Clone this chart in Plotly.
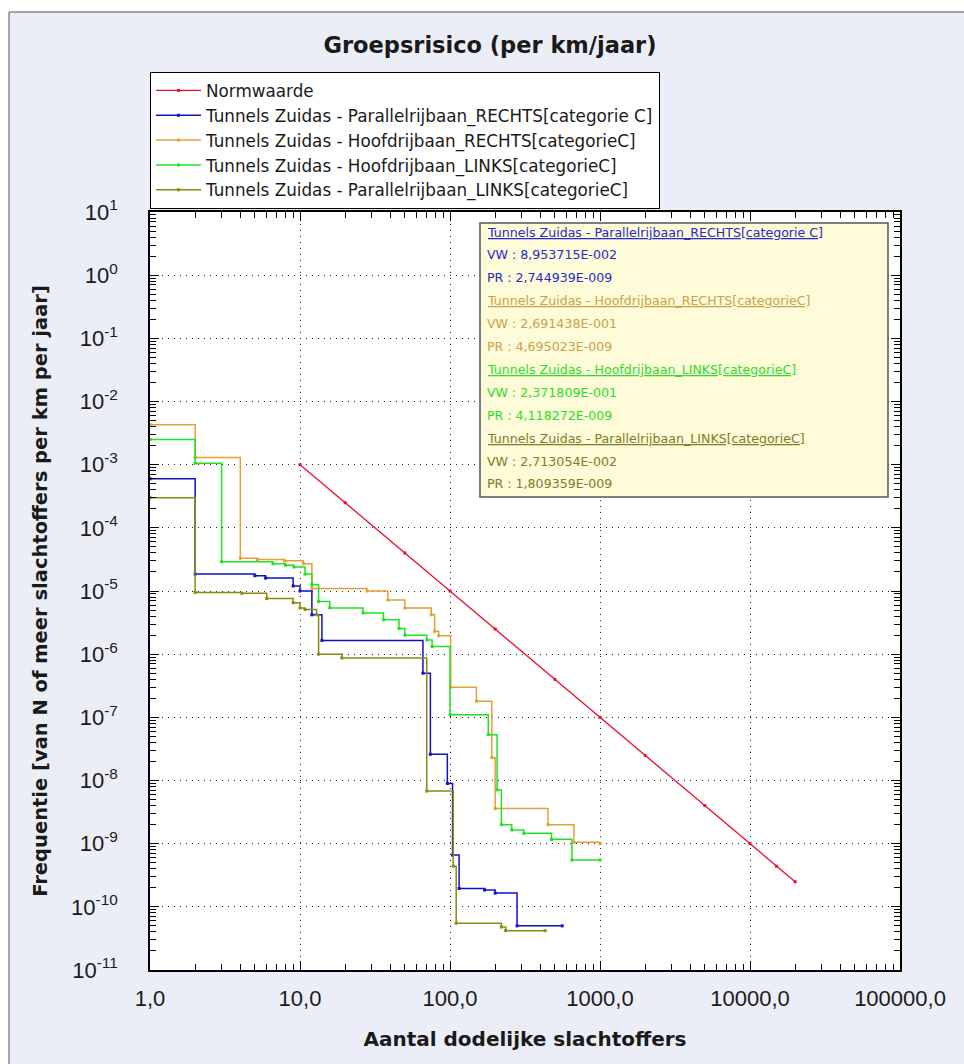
import plotly.graph_objects as go

# ---------------- data ----------------
norm_n = [10, 20, 50, 100, 200, 500, 1000, 2000, 5000, 10000, 15000, 20000]
norm_f = [1e-3, 2.5e-4, 4e-5, 1e-5, 2.5e-6, 4e-7, 1e-7, 2.5e-8, 4e-9, 1e-9, 4.4e-10, 2.5e-10]

pr_rechts_n = [1, 2, 5, 5.9, 9, 10, 12, 14, 66, 74, 96, 104, 115, 170, 200, 280, 560]
pr_rechts_f = [6.0e-4, 1.85e-5, 1.75e-5, 1.6e-5, 1.2e-5, 1.0e-5, 4.2e-6, 1.65e-6, 5.0e-7,
               2.6e-8, 9.0e-9, 6.6e-10, 1.95e-10, 1.85e-10, 1.65e-10, 5.0e-11, 5.0e-11]

hf_rechts_n = [1, 2, 4, 5.2, 7.9, 10.5, 12, 28, 38.5, 50, 75, 79, 84, 101, 150, 190, 200, 450, 670, 1000]
hf_rechts_f = [4.3e-3, 1.3e-3, 3.3e-5, 3.15e-5, 3.0e-5, 2.7e-5, 1.1e-5, 1.0e-5, 7.2e-6, 5.4e-6,
               4.2e-6, 2.3e-6, 1.95e-6, 3.0e-7, 1.8e-7, 2.3e-8, 3.6e-9, 2.0e-9, 1.05e-9, 1.0e-9]

hf_links_n = [1, 2, 3, 6.6, 8, 9.1, 10.8, 12, 13.3, 15.8, 26.3, 36, 45.7, 50, 70, 76, 100,
              180, 206, 220, 258, 310, 475, 650, 1000]
hf_links_f = [2.5e-3, 1.05e-3, 2.9e-5, 2.7e-5, 2.55e-5, 2.4e-5, 1.85e-5, 1.26e-5, 6.8e-6, 5.4e-6,
              4.5e-6, 3.5e-6, 2.55e-6, 2.0e-6, 1.68e-6, 1.32e-6, 1.1e-7, 5.3e-8, 7.1e-9, 2.0e-9,
              1.65e-9, 1.46e-9, 1.17e-9, 5.5e-10, 5.5e-10]

pr_links_n = [1, 2, 4.1, 6, 9, 10, 10.8, 12.9, 13.3, 19, 70, 105, 110, 220, 235, 430]
pr_links_f = [3.0e-4, 9.5e-6, 9.2e-6, 7.6e-6, 6.5e-6, 5.4e-6, 5.1e-6, 4.2e-6, 1.0e-6, 8.7e-7,
              6.8e-9, 4.4e-10, 5.5e-11, 4.8e-11, 4.2e-11, 4.2e-11]

names = ["Normwaarde",
         "Tunnels Zuidas - Parallelrijbaan_RECHTS[categorie C]",
         "Tunnels Zuidas - Hoofdrijbaan_RECHTS[categorieC]",
         "Tunnels Zuidas - Hoofdrijbaan_LINKS[categorieC]",
         "Tunnels Zuidas - Parallelrijbaan_LINKS[categorieC]"]

x_tickvals = [1, 10, 100, 1000, 10000, 100000]
x_ticktext = ["1,0", "10,0", "100,0", "1000,0", "10000,0", "100000,0"]
y_exps = list(range(1, -12, -1))

info_lines = [
    ("<u>Tunnels Zuidas - Parallelrijbaan_RECHTS[categorie C]</u>", "#2a2ac8"),
    ("VW : 8,953715E-002", "#2a2ac8"),
    ("PR : 2,744939E-009", "#2a2ac8"),
    ("<u>Tunnels Zuidas - Hoofdrijbaan_RECHTS[categorieC]</u>", "#c9a24e"),
    ("VW : 2,691438E-001", "#c9a24e"),
    ("PR : 4,695023E-009", "#c9a24e"),
    ("<u>Tunnels Zuidas - Hoofdrijbaan_LINKS[categorieC]</u>", "#2edc2e"),
    ("VW : 2,371809E-001", "#2edc2e"),
    ("PR : 4,118272E-009", "#2edc2e"),
    ("<u>Tunnels Zuidas - Parallelrijbaan_LINKS[categorieC]</u>", "#7d7d2a"),
    ("VW : 2,713054E-002", "#7d7d2a"),
    ("PR : 1,809359E-009", "#7d7d2a"),
]

# ---------------- figure ----------------
ARIAL = "Liberation Sans, Arial, sans-serif"
WIDE = "DejaVu Sans, Verdana, sans-serif"
INK = "#1a1a1a"
fig = go.Figure()

fig.add_trace(go.Scatter(x=norm_n, y=norm_f, name=names[0], mode="lines+markers",
                         line=dict(color="#e8102a", width=1.3),
                         marker=dict(size=3, color="#e8102a", symbol="square")))

series = [
    (pr_rechts_n, pr_rechts_f, names[1], "#1010c8"),
    (hf_rechts_n, hf_rechts_f, names[2], "#e5a035"),
    (hf_links_n, hf_links_f, names[3], "#22e022"),
    (pr_links_n, pr_links_f, names[4], "#8a8a12"),
]
for xs, ys, nm, col in series:
    fig.add_trace(go.Scatter(x=xs, y=ys, name=nm, mode="lines+markers",
                             line=dict(color=col, width=1.5, shape="hv"),
                             marker=dict(size=3, color=col, symbol="square")))

# plot area in pixels: x 150..900, y 212..970
def px(xp):
    return (xp - 150) / 750.0

def py(yp):
    return (970 - yp) / 758.0

# info box
fig.add_shape(type="rect", xref="paper", yref="paper",
              x0=px(480), x1=px(888), y0=py(497), y1=py(223),
              fillcolor="#fdfbd8", line=dict(color="#555555", width=1.5), layer="above")

ys_info = [232, 254, 277, 300, 323, 346, 369, 392, 415, 438, 461, 484]
for (txt, col), yy in zip(info_lines, ys_info):
    fig.add_annotation(text=txt, xref="paper", yref="paper", x=px(485), y=py(yy),
                       xanchor="left", yanchor="middle", showarrow=False,
                       font=dict(family=WIDE, size=12.6, color=col))

# outer frame (white strips and border)
fig.add_shape(type="rect", xref="paper", yref="paper",
              x0=px(0), x1=px(964), y0=py(12), y1=py(0),
              fillcolor="white", line=dict(width=0), layer="below")
fig.add_shape(type="rect", xref="paper", yref="paper",
              x0=px(0), x1=px(9), y0=py(1064), y1=py(0),
              fillcolor="white", line=dict(width=0), layer="below")
fig.add_shape(type="line", xref="paper", yref="paper",
              x0=px(9), x1=px(964), y0=py(12), y1=py(12),
              line=dict(color="#8a8a8a", width=1.5))
fig.add_shape(type="line", xref="paper", yref="paper",
              x0=px(9), x1=px(9), y0=py(12), y1=py(1064),
              line=dict(color="#8a8a8a", width=1.5))

x_minor = [m * 10 ** e for e in range(0, 5) for m in range(2, 10)]
y_minor = [m * 10.0 ** e for e in range(-11, 1) for m in range(2, 10)]

axis_common = dict(showline=True, linecolor="black", linewidth=1.5, mirror="ticks",
                   ticks="inside", ticklen=9, tickcolor="black", tickwidth=1,
                   showgrid=True, gridcolor="#222222", griddash="1px,5px", gridwidth=1,
                   zeroline=False, automargin=False)

fig.update_xaxes(type="log", range=[0, 5], tickmode="array", tickvals=x_tickvals,
                 ticktext=x_ticktext, tickfont=dict(family=ARIAL, size=22, color=INK),
                 ticklabelstandoff=8,
                 minor=dict(tickmode="array", tickvals=x_minor, ticks="inside", ticklen=6,
                            tickcolor="black", showgrid=False),
                 title=dict(text="<b>Aantal dodelijke slachtoffers</b>", standoff=22,
                            font=dict(family=WIDE, size=20, color=INK)),
                 **axis_common)

fig.update_yaxes(type="log", range=[-11, 1], tickmode="array",
                 tickvals=[10.0 ** e for e in y_exps],
                 ticktext=["10<sup>%d</sup>" % e for e in y_exps],
                 tickfont=dict(family=ARIAL, size=22, color=INK),
                 ticklabelstandoff=26,
                 minor=dict(tickmode="array", tickvals=y_minor, ticks="inside", ticklen=6,
                            tickcolor="black", showgrid=False),
                 title=dict(text="<b>Frequentie [van N of meer slachtoffers per km per jaar]</b>",
                            standoff=18, font=dict(family=WIDE, size=19.5, color=INK)),
                 **axis_common)

fig.update_layout(
    width=964, height=1064,
    margin=dict(l=150, r=64, t=212, b=94),
    paper_bgcolor="#eceef7", plot_bgcolor="white",
    title=dict(text="<b>Groepsrisico (per km/jaar)</b>", x=490 / 964, xref="container",
               xanchor="center", y=1 - 45 / 1064, yref="container", yanchor="middle",
               font=dict(family=WIDE, size=22.5, color=INK)),
    legend=dict(x=0, y=py(72), xanchor="left", yanchor="top", bgcolor="white",
                bordercolor="black", borderwidth=1,
                font=dict(family=WIDE, size=16.8, color=INK),
                tracegroupgap=0, itemwidth=45),
    showlegend=True,
)

fig.write_html("out.html", config={"displayModeBar": False},
               post_script="document.body.style.margin='0px';")
